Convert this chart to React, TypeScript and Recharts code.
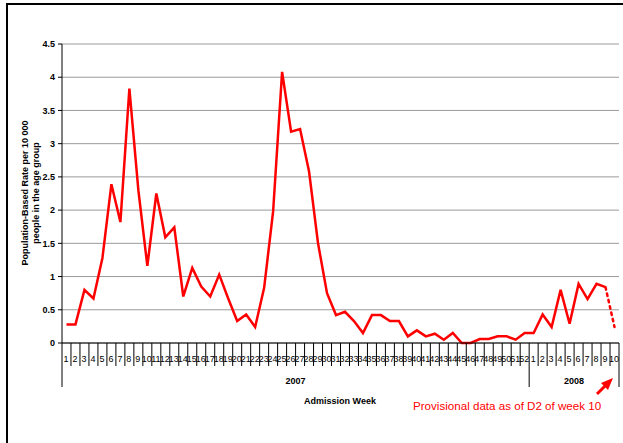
import { LineChart, Line, XAxis, YAxis, CartesianGrid } from "recharts"

const weekLabels2007 = [
  "1", "2", "3", "4", "5", "6", "7", "8", "9", "10", "11", "12", "13",
  "14", "15", "16", "17", "18", "19", "20", "21", "22", "23", "24", "25", "26",
  "27", "28", "29", "30", "31", "32", "33", "34", "35", "36", "37", "38", "39",
  "40", "41", "42", "43", "44", "45", "46", "47", "48", "49", "50", "51", "52",
]
const weekLabels2008 = ["1", "2", "3", "4", "5", "6", "7", "8", "9", "10"]
const years = ["2007", "2008"]

const rates2007 = [
  0.28, 0.28, 0.8, 0.67, 1.28, 2.39, 1.82, 3.83, 2.3, 1.16, 2.25, 1.59, 1.74,
  0.7, 1.13, 0.85, 0.7, 1.03, 0.67, 0.33, 0.43, 0.24, 0.83, 1.98, 4.08, 3.18,
  3.22, 2.58, 1.5, 0.75, 0.42, 0.47, 0.33, 0.15, 0.42, 0.42, 0.33, 0.33, 0.1,
  0.19, 0.1, 0.14, 0.05, 0.15, 0, 0, 0.06, 0.06, 0.1, 0.1, 0.05, 0.15,
]
const rates2008 = [0.15, 0.43, 0.24, 0.8, 0.29, 0.89, 0.66, 0.89, 0.84, 0.24]

const yTicks = [0, 0.5, 1, 1.5, 2, 2.5, 3, 3.5, 4, 4.5]

const FONT = "Arial, 'Liberation Sans', sans-serif"
const W = 623
const H = 443
const PLOT_LEFT = 62
const PLOT_RIGHT = 619
const PLOT_TOP = 44
const PLOT_BOTTOM = 343

const groups = [
  { year: years[0], labels: weekLabels2007, rates: rates2007 },
  { year: years[1], labels: weekLabels2008, rates: rates2008 },
]

const rows: { key: string; week: string; value: number }[] = []
groups.forEach((g) => {
  g.labels.forEach((w, i) => rows.push({ key: `${g.year}-${w}`, week: w, value: g.rates[i] }))
})
const N = rows.length
// last week is provisional: drawn dotted from the previous point
const data = rows.map((r, i) => ({
  ...r,
  rate: i < N - 1 ? r.value : null,
  provisional: i >= N - 2 ? r.value : null,
}))

const STEP = (PLOT_RIGHT - PLOT_LEFT) / N

// where groups end and where their year label sits
const groupEnds: number[] = []
const yearAt: Record<number, { text: string; dx: number }> = {}
let start = 0
groups.forEach((g) => {
  const len = g.labels.length
  groupEnds.push(start + len - 1)
  if (len % 2 === 0) yearAt[start + len / 2 - 1] = { text: g.year, dx: STEP / 2 }
  else yearAt[start + (len - 1) / 2] = { text: g.year, dx: 0 }
  start += len
})

function WeekTick(props: any) {
  const { x, y, payload } = props
  const i = payload.index ?? props.index
  const row = data[i]
  const right = x + STEP / 2
  const isEnd = groupEnds.includes(i)
  const yr = yearAt[i]
  return (
    <g>
      {i === 0 && (
        <line x1={x - STEP / 2} x2={x - STEP / 2} y1={y} y2={y + 44} stroke="#000" strokeWidth={1} />
      )}
      <line x1={right} x2={right} y1={y} y2={isEnd ? y + 44 : y + 23} stroke="#000" strokeWidth={1} />
      <text x={x - 0.5} y={y + 19} textAnchor="middle" fontSize={9} fontFamily={FONT} fill="#000">
        {row ? row.week : ""}
      </text>
      {yr && (
        <text x={x + yr.dx} y={y + 41} textAnchor="middle" fontSize={9} fontWeight="bold" fontFamily={FONT} fill="#000">
          {yr.text}
        </text>
      )}
    </g>
  )
}

export default function App() {
  return (
    <div style={{ position: "fixed", left: 0, top: 0, width: W, height: H, overflow: "hidden", background: "#fff" }}>
      <div style={{ position: "absolute", left: 0, top: 0 }}>
        <LineChart
          width={W}
          height={H}
          data={data}
          margin={{ top: PLOT_TOP, right: W - PLOT_RIGHT, bottom: 0, left: 0 }}
        >
          <CartesianGrid vertical={false} stroke="#9a9a9a" strokeWidth={1} />
          <XAxis
            dataKey="key"
            interval={0}
            padding={{ left: STEP / 2, right: STEP / 2 }}
            height={H - PLOT_BOTTOM}
            tickSize={0}
            tickMargin={0}
            tickLine={false}
            axisLine={{ stroke: "#000", strokeWidth: 1 }}
            tick={<WeekTick />}
          />
          <YAxis
            width={PLOT_LEFT}
            domain={[0, 4.5]}
            ticks={yTicks}
            interval={0}
            tickSize={4}
            tickMargin={3}
            tickLine={{ stroke: "#000" }}
            axisLine={{ stroke: "#000", strokeWidth: 1 }}
            tick={{ fontSize: 9, fontWeight: "bold", fontFamily: FONT, fill: "#000" }}
            tickFormatter={(v) => `${v}`}
          />
          <YAxis
            yAxisId="right"
            orientation="right"
            width={0}
            domain={[0, 4.5]}
            tick={false}
            tickLine={false}
            axisLine={{ stroke: "#9a9a9a", strokeWidth: 2 }}
          />
          <Line
            dataKey="rate"
            stroke="#ff0000"
            strokeWidth={2.5}
            dot={false}
            isAnimationActive={false}
            connectNulls={false}
          />
          <Line
            dataKey="provisional"
            stroke="#ff0000"
            strokeWidth={2.5}
            strokeDasharray="2.5 4"
            strokeLinecap="round"
            dot={false}
            isAnimationActive={false}
          />
        </LineChart>
      </div>
      <svg width={W} height={H} style={{ position: "absolute", left: 0, top: 0, pointerEvents: "none" }}>
        <rect x={7} y={4} width={700} height={600} fill="none" stroke="#000" strokeWidth={2} />
        <text
          transform="translate(28 193) rotate(-90)"
          textAnchor="middle"
          fontSize={9}
          fontWeight="bold"
          fontFamily={FONT}
          fill="#000"
        >
          Population-Based Rate per 10 000
        </text>
        <text
          transform="translate(39 193) rotate(-90)"
          textAnchor="middle"
          fontSize={9}
          fontWeight="bold"
          fontFamily={FONT}
          fill="#000"
        >
          people in the age group
        </text>
        <text x={340} y={404} textAnchor="middle" fontSize={9} fontWeight="bold" fontFamily={FONT} fill="#000">
          Admission Week
        </text>
        <text x={413} y={410} fontSize={11.6} fontFamily={FONT} fill="#ff0000">
          Provisional data as of D2 of week 10
        </text>
        <line x1={597} y1={394} x2={607} y2={384} stroke="#ff0000" strokeWidth={3} />
        <polygon points="613,378 601,383 608,390" fill="#ff0000" />
      </svg>
    </div>
  )
}
